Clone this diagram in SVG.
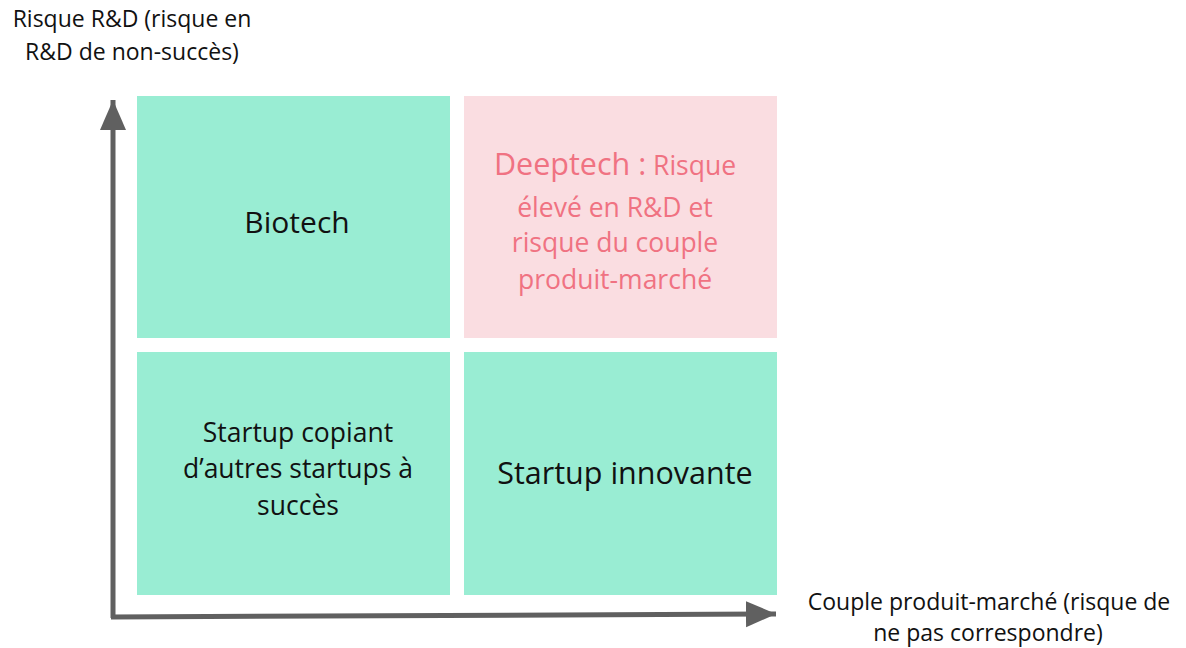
<svg xmlns="http://www.w3.org/2000/svg" width="1186" height="648" viewBox="0 0 1186 648">
<style>
text{font-family:"Open Sans","Liberation Sans",sans-serif;text-anchor:middle;fill:#111}
.g{fill:#99EDD3}
.p{fill:#FADDE1}
.ax{stroke:#606060;stroke-width:5;fill:none}
.lbl{font-size:23px}
.pk{fill:#F07282}
</style>
<defs>
<marker id="ah" markerUnits="userSpaceOnUse" markerWidth="34" markerHeight="30" refX="30" refY="15" orient="auto">
<path d="M0,2 L30,15 L0,28 Z" fill="#606060"/>
</marker>
</defs>
<rect width="1186" height="648" fill="#fff"/>
<g id="connectors">
<path class="ax" d="M113,618 L113,100" marker-end="url(#ah)"/>
<path class="ax" d="M111,617 L776,614" marker-end="url(#ah)"/>
</g>
<g id="biotech"><rect class="g" x="137" y="96" width="313" height="242"/><text x="297" y="233" font-size="30">Biotech</text></g>
<g id="deeptech"><rect class="p" x="464" y="96" width="313" height="242"/>
<text class="pk" x="615" y="175" font-size="26.5"><tspan font-size="30.5">Deeptech :</tspan> Risque</text>
<text class="pk" x="615" y="217" font-size="26.5">élevé en R&amp;D et</text>
<text class="pk" x="615" y="252" font-size="26.5">risque du couple</text>
<text class="pk" x="615" y="289" font-size="26.5">produit-marché</text>
</g>
<g id="copiant"><rect class="g" x="137" y="352" width="313" height="243"/>
<text x="298" y="442" font-size="26.5">Startup copiant</text>
<text x="298" y="478" font-size="26.5">d’autres startups à</text>
<text x="298" y="515" font-size="26.5">succès</text>
</g>
<g id="innovante"><rect class="g" x="464" y="352" width="313" height="243"/><text x="625" y="484" font-size="30.5">Startup innovante</text></g>
<g id="yaxis-label"><text class="lbl" x="132" y="27">Risque R&amp;D (risque en</text><text class="lbl" x="132" y="60">R&amp;D de non-succès)</text></g>
<g id="xaxis-label"><text class="lbl" x="989" y="610">Couple produit-marché (risque de</text><text class="lbl" x="988" y="641">ne pas correspondre)</text></g>
</svg>
